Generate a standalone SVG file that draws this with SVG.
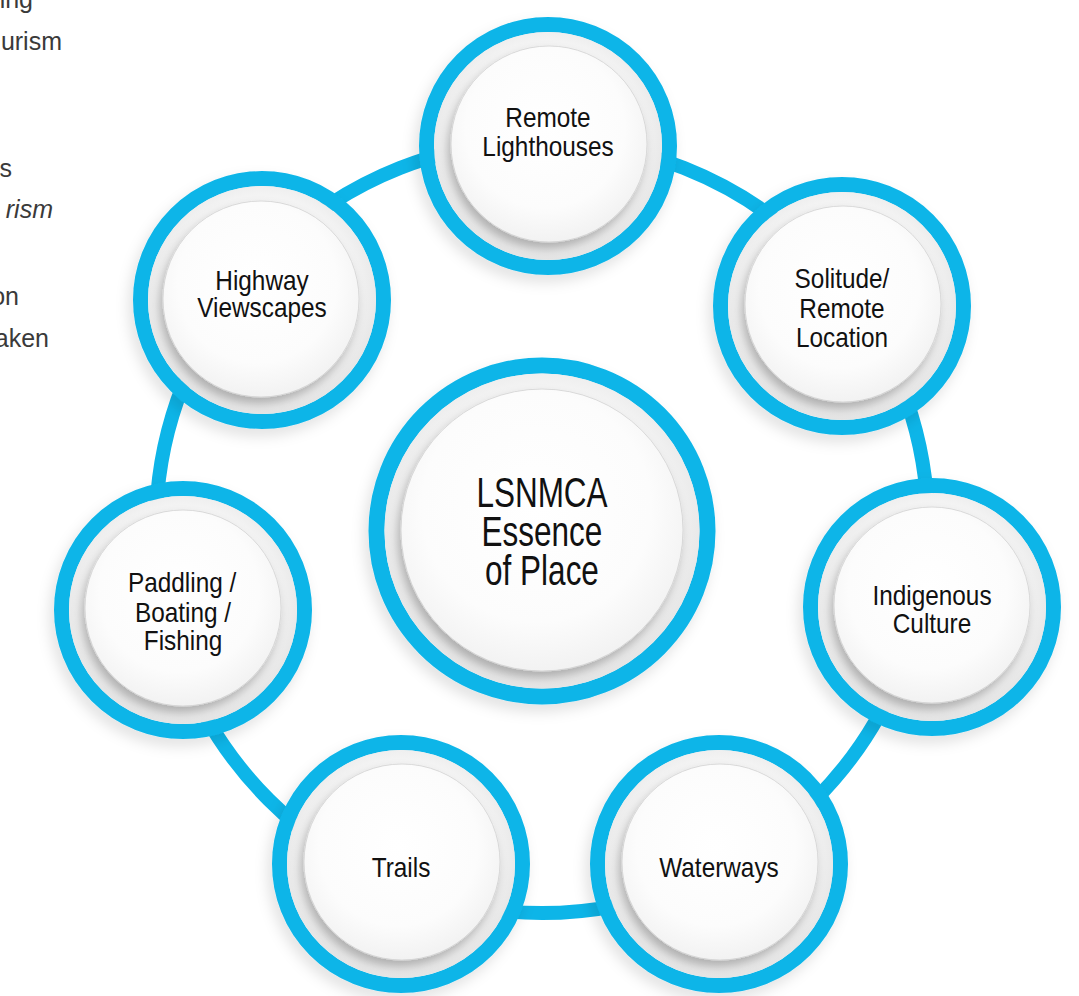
<svg xmlns="http://www.w3.org/2000/svg" width="1079" height="996" viewBox="0 0 1079 996">
<style>
.bg{fill:#ffffff}
.ring{fill:none;stroke:#0db5e8;stroke-width:15;filter:url(#rsh)}
.plate{fill:url(#plateG)}
.disc{fill:url(#discG);stroke:#d2d2d2;stroke-width:0.8;filter:url(#dsh)}
.lbl{font-family:"Liberation Sans",Arial,sans-serif;font-size:28px;fill:#111;text-anchor:middle}
.big{font-size:42px}
.side{font-family:"Liberation Sans",Arial,sans-serif;font-size:25px;fill:#3a3a3a;text-anchor:end}
.conn{fill:none;stroke:#0db5e8;stroke-width:14}
</style>
<defs>
<radialGradient id="plateG" cx="50%" cy="45%" r="55%">
<stop offset="0" stop-color="#fcfcfc"/>
<stop offset="0.75" stop-color="#f3f3f3"/>
<stop offset="1" stop-color="#e4e4e4"/>
</radialGradient>
<radialGradient id="discG" cx="48%" cy="42%" r="58%">
<stop offset="0" stop-color="#ffffff"/>
<stop offset="0.7" stop-color="#fcfcfc"/>
<stop offset="1" stop-color="#f2f2f2"/>
</radialGradient>
<filter id="dsh" x="-25%" y="-25%" width="150%" height="150%">
<feDropShadow dx="-3" dy="6" stdDeviation="5" flood-color="#000" flood-opacity="0.26"/>
</filter>
<filter id="rsh" x="-25%" y="-25%" width="150%" height="150%">
<feDropShadow dx="-4" dy="7" stdDeviation="7" flood-color="#000" flood-opacity="0.12"/>
</filter>
</defs>
<rect class="bg" x="0" y="0" width="1079" height="996"/>
<g id="side-text">
<text class="side" x="33" y="8">ing</text>
<text class="side" x="62" y="50">urism</text>
<text class="side" x="12" y="177">s</text>
<text class="side" x="53" y="218" font-style="italic">rism</text>
<text class="side" x="19" y="305">on</text>
<text class="side" x="49" y="347">aken</text>
</g>
<g id="connectors">
<circle class="conn" cx="542" cy="527" r="386"/>
</g>
<g id="node-center" transform="translate(542,531)">
<circle class="ring" r="165.5" style="stroke-width:16"/>
<circle class="plate" r="157.5"/>
<circle class="disc" cx="0" cy="-1" r="141"/>
<text class="lbl big" transform="scale(0.75,1)"><tspan x="0" y="-24">LSNMCA</tspan><tspan x="0" y="15">Essence</tspan><tspan x="0" y="54">of Place</tspan></text>
</g>
<g id="node-remote" transform="translate(548,146)">
<circle class="ring" r="121.5"/>
<circle class="plate" r="114"/>
<circle class="disc" cx="1" cy="-2" r="98"/>
<text class="lbl" transform="scale(0.87,1)"><tspan x="0" y="-19">Remote</tspan><tspan x="0" y="10">Lighthouses</tspan></text>
</g>
<g id="node-highway" transform="translate(262,300)">
<circle class="ring" r="121.5"/>
<circle class="plate" r="114"/>
<circle class="disc" cx="-1" cy="-1" r="98"/>
<text class="lbl" transform="scale(0.87,1)"><tspan x="0" y="-10">Highway</tspan><tspan x="0" y="17">Viewscapes</tspan></text>
</g>
<g id="node-solitude" transform="translate(842,306)">
<circle class="ring" r="121.5"/>
<circle class="plate" r="114"/>
<circle class="disc" cx="1" cy="-2" r="98"/>
<text class="lbl" transform="scale(0.87,1)"><tspan x="0" y="-18">Solitude/</tspan><tspan x="0" y="12">Remote</tspan><tspan x="0" y="41">Location</tspan></text>
</g>
<g id="node-indigenous" transform="translate(932,607)">
<circle class="ring" r="121.5"/>
<circle class="plate" r="114"/>
<circle class="disc" cx="0" cy="-2" r="98"/>
<text class="lbl" transform="scale(0.87,1)"><tspan x="0" y="-2">Indigenous</tspan><tspan x="0" y="26">Culture</tspan></text>
</g>
<g id="node-waterways" transform="translate(719,864)">
<circle class="ring" r="121.5"/>
<circle class="plate" r="114"/>
<circle class="disc" cx="1" cy="-2" r="98"/>
<text class="lbl" transform="scale(0.87,1)"><tspan x="0" y="13">Waterways</tspan></text>
</g>
<g id="node-trails" transform="translate(401,864)">
<circle class="ring" r="121.5"/>
<circle class="plate" r="114"/>
<circle class="disc" cx="1" cy="-2" r="98"/>
<text class="lbl" transform="scale(0.87,1)"><tspan x="0" y="13">Trails</tspan></text>
</g>
<g id="node-paddling" transform="translate(183,610)">
<circle class="ring" r="121.5"/>
<circle class="plate" r="114"/>
<circle class="disc" cx="0" cy="-2" r="98"/>
<text class="lbl" transform="scale(0.87,1)"><tspan x="-1" y="-18">Paddling /</tspan><tspan x="0" y="12">Boating /</tspan><tspan x="0" y="40">Fishing</tspan></text>
</g>
</svg>
